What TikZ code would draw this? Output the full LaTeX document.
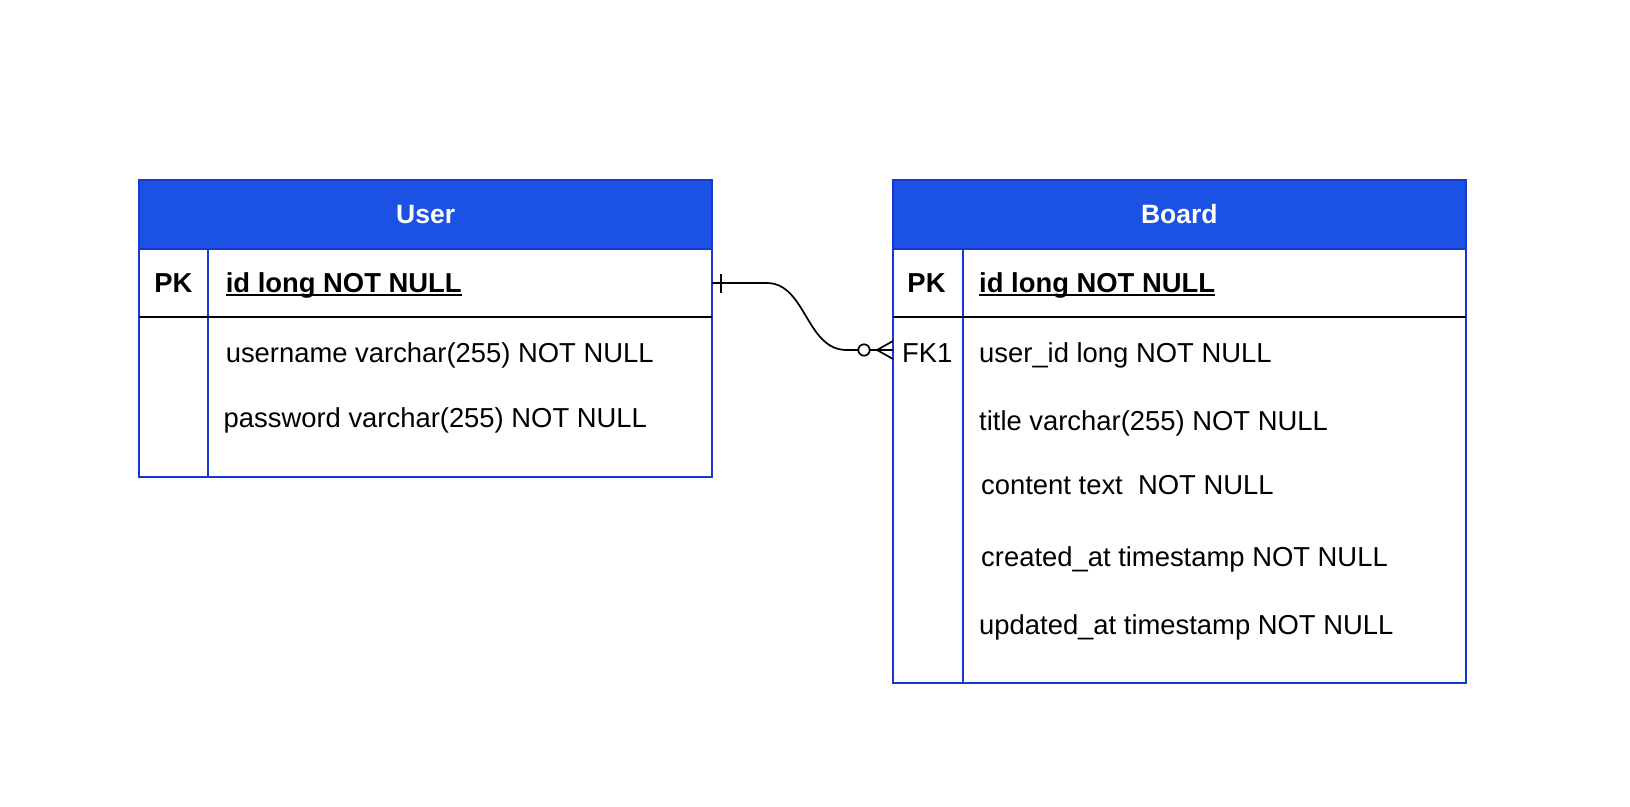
\documentclass[tikz,border=0pt]{standalone}
\usepackage{fontspec}
\setmainfont{Liberation Sans}
\definecolor{hdrblue}{RGB}{28,82,228}
\definecolor{lnblue}{RGB}{24,56,210}
\newcommand{\ulbf}[1]{\setbox0\hbox{\bfseries #1}\rlap{\rule[-3pt]{\wd0}{2pt}}\box0}
\tikzset{
  tblhead/.style={rectangle, draw=lnblue, fill=hdrblue, line width=2pt, inner sep=0pt, outer sep=0pt, text=white, font=\fontsize{26.5}{32}\selectfont\bfseries},
  tblbody/.style={rectangle, draw=lnblue, fill=white, line width=2pt, inner sep=0pt, outer sep=0pt},
  cell/.style={anchor=base west, inner sep=0pt, font=\fontsize{27.4}{32}\selectfont},
  keycell/.style={anchor=base, inner sep=0pt, font=\fontsize{27.4}{32}\selectfont\bfseries},
  coldiv/.style={draw=lnblue, line width=2pt},
  rowdiv/.style={draw=black, line width=2pt},
  conn/.style={draw=black, line width=1.7pt},
}
\begin{document}
\begin{tikzpicture}[x=1pt,y=-1pt]
\path[use as bounding box] (0,0) rectangle (1630,806);
% User table
\node[tblbody, minimum width=572.7pt, minimum height=228pt, anchor=north west] (userbody) at (139.3,249) {};
\node[tblhead, minimum width=572.7pt, minimum height=69.5pt, anchor=north west] (userhead) at (139.3,179.5) {User};
\draw[coldiv] (208,249) -- (208,477);
\draw[rowdiv] (139.3,316.5) -- (712,316.5);
\node[keycell] (upkl) at (173.5,292.5) {PK};
\node[cell] (uid) at (225.6,292.5) {\ulbf{id long NOT NULL}};
\node[cell] (uname) at (225.6,362) {username varchar(255) NOT NULL};
\node[cell] (upass) at (223.5,427.6) {password varchar(255) NOT NULL};
% Board table
\node[tblbody, minimum width=572.7pt, minimum height=434pt, anchor=north west] (boardbody) at (893,249) {};
\node[tblhead, minimum width=572.7pt, minimum height=69.5pt, anchor=north west] (boardhead) at (893,179.5) {Board};
\draw[coldiv] (962.5,249) -- (962.5,683);
\draw[rowdiv] (893,316.5) -- (1465.7,316.5);
\node[keycell] (bpkl) at (926.5,292.5) {PK};
\node[cell] (bid) at (979,292.5) {\ulbf{id long NOT NULL}};
\node[cell] (bfkl) at (902,362) {FK1};
\node[cell] (buid) at (979,362) {user\_id long NOT NULL};
\node[cell] (btitle) at (979,430.7) {title varchar(255) NOT NULL};
\node[cell] (bcontent) at (981,494) {content text\ \ NOT NULL};
\node[cell] (bcreated) at (981,566) {created\_at timestamp NOT NULL};
\node[cell] (bupdated) at (979,634.4) {updated\_at timestamp NOT NULL};
% connector
\coordinate (upk) at (712,283);
\coordinate (bfk) at (893,350);
\draw[conn] (upk) -- (766.7,283) .. controls (806,283) and (806,350) .. (846.7,350) -- (bfk);
\draw[conn] (720.7,274) -- (720.7,292.5);
\draw[conn] (893,341) -- (877,350) -- (893,359);
\draw[conn, fill=white] (864,350) circle (5.7);
\end{tikzpicture}
\end{document}
